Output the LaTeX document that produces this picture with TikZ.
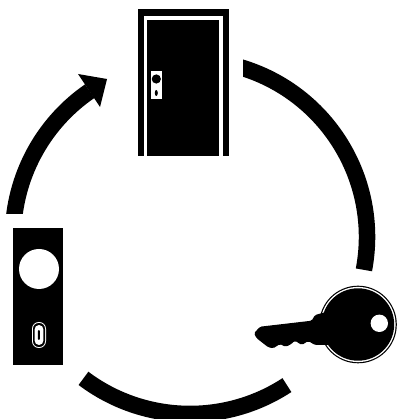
\documentclass[tikz,border=0pt]{standalone}
\usepackage{tikz}

\begin{document}
\begin{tikzpicture}[x=1pt, y=1pt,
    ring/.style={line width=16.5pt, black},
    wt/.style={fill=white},
    bk/.style={fill=black}]
\useasboundingbox (0,0) rectangle (398,419);
\coordinate (c) at (190,182);
% ring segments, ends cut by the clip
\foreach \nm/\a/\b/\cx/\cy in {doorkey/77/-10.7/243/0, keyplate/303.2/233/0/0, platedoor/177/124.5/0/205} {
    \begin{scope}
        \clip (\cx,\cy) rectangle (398,419);
        \coordinate (\nm) at ([shift={(\a:177)}]c);
        \draw[ring] (\nm) arc[start angle=\a, end angle=\b, radius=177];
    \end{scope}
}
% arrow head
\coordinate (tipA) at (78,345);
\coordinate (tipB) at (107,340);
\coordinate (tipC) at (100,312);
\fill[bk] (tipA)--(tipB)--(tipC)--cycle;
% door
\fill[bk] (138,263) rectangle (229,410);
\fill[wt] (144,263) rectangle (223,403);
\fill[bk] (147,263) rectangle (219,399);
\fill[wt] (151,320) rectangle (162,348);
\fill[bk] (156.3,340) circle[radius=4.6];
\fill[bk] (156.3,326) ellipse[x radius=1.5, y radius=3];
% plate
\fill[bk] (13,54) rectangle (63,191);
\fill[wt] (39,150) circle[radius=20];
\fill[wt, rounded corners=6.8pt] (32,71) rectangle (46,97);
\fill[bk, rounded corners=5.8pt] (33,72) rectangle (45,96);
\fill[wt, rounded corners=4.4pt] (34.6,74) rectangle (43.4,94);
\fill[bk, rounded corners=1pt] (37.8,79) rectangle (39.8,89);
% key
\fill[bk] (358,94.5) circle[radius=38.8];
\fill[wt] (358,94.5) circle[radius=37.6];
\fill[bk] (358,94.5) circle[radius=36.2];
\fill[bk, rounded corners=1.5pt] (327.3,107.3)--(315,104)--(311.7,98.3)--(260,92.3)--(254,85.7)--(256.7,80.7)
    --(268.3,71.7)--(273.3,70.7)--(280,75)--(285,72.3)--(290,74)--(295,78.3)--(301.7,74)--(308.3,78)--(315,74)--(329.3,74)--cycle;
\fill[wt] (379.3,95.7) circle[radius=8.7];
\end{tikzpicture}
\end{document}
